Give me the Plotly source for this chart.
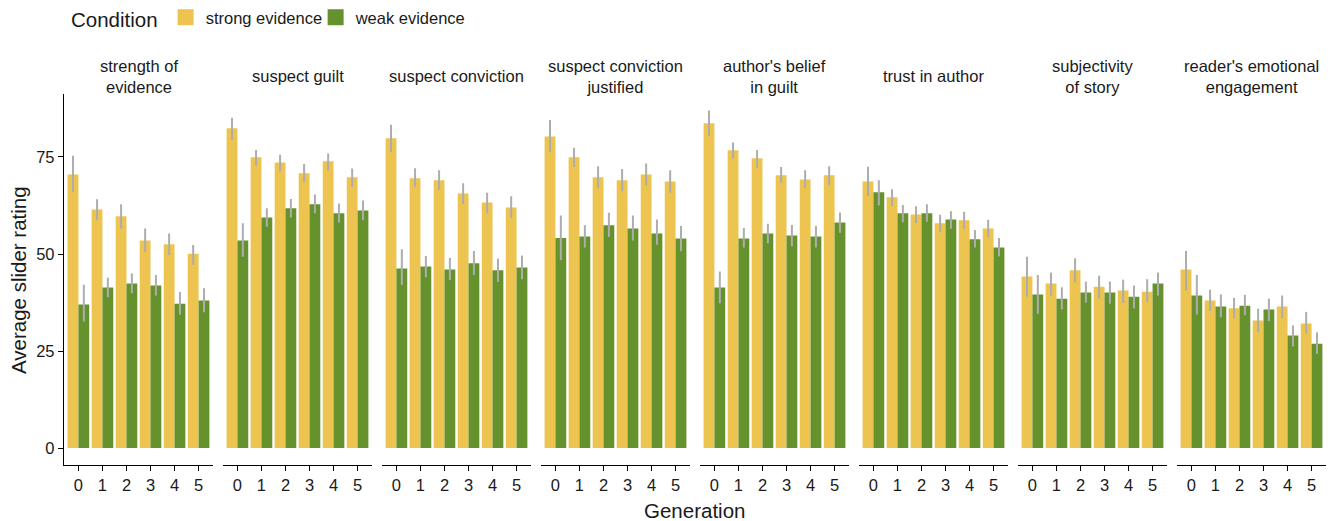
import plotly.graph_objects as go

# ---------------- data ----------------
facets = ["strength of<br>evidence", "suspect guilt", "suspect conviction",
          "suspect conviction<br>justified", "author's belief<br>in guilt",
          "trust in author", "subjectivity<br>of story",
          "reader's emotional<br>engagement"]
generations = [0, 1, 2, 3, 4, 5]
conditions = ["strong evidence", "weak evidence"]

strong_mean = [
    [70.5, 61.5, 59.7, 53.5, 52.5, 50.1],
    [82.4, 74.9, 73.6, 70.8, 73.9, 69.8],
    [79.8, 69.5, 69.0, 65.6, 63.3, 62.0],
    [80.3, 74.9, 69.8, 69.0, 70.5, 68.7],
    [83.7, 76.7, 74.7, 70.3, 69.2, 70.3],
    [68.7, 64.6, 60.2, 57.9, 58.7, 56.6],
    [44.2, 42.4, 45.8, 41.6, 40.6, 40.3],
    [46.0, 38.0, 36.0, 32.9, 36.5, 32.1],
]
strong_hi = [
    [75.3, 64.1, 62.8, 56.6, 55.3, 52.3],
    [85.1, 76.8, 75.6, 73.2, 75.9, 72.0],
    [83.3, 72.1, 71.6, 68.2, 65.8, 64.9],
    [84.5, 77.4, 72.6, 71.9, 73.3, 71.6],
    [87.0, 78.7, 76.8, 72.4, 71.6, 72.6],
    [72.5, 66.7, 62.3, 60.1, 60.9, 58.8],
    [49.3, 45.2, 48.9, 44.4, 43.4, 43.5],
    [50.8, 40.8, 38.7, 35.9, 39.3, 35.1],
]
strong_lo = [
    [66.0, 58.7, 56.6, 50.5, 49.7, 47.2],
    [79.4, 72.7, 71.3, 68.5, 71.6, 67.3],
    [76.3, 67.3, 66.5, 62.9, 60.5, 59.3],
    [76.3, 72.4, 67.0, 66.2, 67.6, 65.8],
    [80.4, 74.6, 72.2, 68.3, 67.0, 67.8],
    [64.9, 62.4, 58.0, 55.6, 56.5, 54.4],
    [39.0, 39.3, 42.7, 38.6, 37.4, 37.6],
    [40.7, 35.3, 33.4, 29.8, 33.5, 29.5],
]
weak_mean = [
    [37.0, 41.4, 42.4, 41.9, 37.2, 38.0],
    [53.5, 59.4, 61.8, 62.8, 60.5, 61.2],
    [46.3, 46.8, 46.0, 47.6, 45.8, 46.5],
    [54.1, 54.5, 57.4, 56.6, 55.3, 54.0],
    [41.4, 54.0, 55.3, 54.8, 54.5, 58.1],
    [65.9, 60.5, 60.5, 58.9, 53.8, 51.7],
    [39.6, 38.5, 40.1, 40.1, 39.0, 42.4],
    [39.3, 36.5, 36.7, 35.7, 29.0, 26.9],
]
weak_hi = [
    [42.1, 43.9, 45.0, 44.6, 40.2, 41.2],
    [57.9, 61.8, 64.2, 65.3, 63.0, 63.8],
    [51.2, 49.5, 49.0, 50.8, 48.8, 49.6],
    [59.9, 57.4, 60.6, 59.9, 58.9, 57.2],
    [45.5, 56.7, 57.8, 57.5, 57.3, 60.7],
    [69.0, 62.6, 62.8, 61.0, 56.2, 54.1],
    [44.6, 41.4, 42.9, 42.9, 41.9, 45.2],
    [44.6, 39.6, 39.5, 38.5, 31.6, 29.8],
]
weak_lo = [
    [32.6, 38.9, 39.9, 39.3, 34.4, 35.0],
    [49.3, 57.0, 59.4, 60.5, 58.1, 58.7],
    [42.0, 44.0, 43.3, 44.6, 42.8, 43.5],
    [48.4, 51.7, 54.4, 53.5, 52.4, 50.7],
    [37.3, 51.7, 52.8, 52.0, 51.7, 55.5],
    [62.5, 58.2, 58.3, 56.5, 51.7, 49.4],
    [34.6, 35.7, 37.5, 37.2, 36.0, 39.3],
    [34.4, 33.7, 34.2, 32.7, 26.2, 24.3],
]
y_ticks = [0, 25, 50, 75]

# ---------------- styling ----------------
W, H = 1333, 521
FONT = "Liberation Sans, Arial, sans-serif"
C_STRONG = "#ECC44F"
C_WEAK = "#66922E"
C_ERR = "#ADADAD"
TXT = "#1a1a1a"

panel_left0 = 64.0
panel_w = 149.0
panel_gap = 10.0
y_top_px, y_bot_px = 93.5, 465.0

def fx(p):
    return p / W

def fy(p):
    return 1 - p / H

fig = go.Figure()
series = [
    (conditions[0], strong_mean, strong_lo, strong_hi, C_STRONG),
    (conditions[1], weak_mean, weak_lo, weak_hi, C_WEAK),
]
for i in range(len(facets)):
    ax = "" if i == 0 else str(i + 1)
    for name, mean, lo, hi, col in series:
        m = mean[i]
        fig.add_trace(go.Bar(
            x=generations, y=m, name=name,
            marker=dict(color=col, line=dict(width=0)),
            error_y=dict(type="data", symmetric=False,
                         array=[h - v for h, v in zip(hi[i], m)],
                         arrayminus=[v - l for l, v in zip(lo[i], m)],
                         color=C_ERR, thickness=2, width=0),
            xaxis="x" + ax, yaxis="y" + ax,
            showlegend=False, legendgroup=name,
        ))

# legend keys (no data, legend only)
for name, _, _, _, col in series:
    fig.add_trace(go.Scatter(
        x=[None], y=[None], mode="markers", name=name, legendgroup=name,
        marker=dict(symbol="square", size=23, color=col, line=dict(width=0)),
        showlegend=True, hoverinfo="skip",
    ))

layout = dict(
    width=W, height=H,
    margin=dict(l=0, r=0, t=0, b=0),
    paper_bgcolor="white", plot_bgcolor="white",
    barmode="group", bargap=0.1, bargroupgap=0.0,
    font=dict(family=FONT, size=16.5, color=TXT),
    showlegend=True,
    legend=dict(orientation="h", x=fx(69), y=1.0, xanchor="left", yanchor="top",
                title=dict(text="Condition", side="left",
                           font=dict(size=20.5, color=TXT)),
                font=dict(size=16.5, color=TXT), itemsizing="trace",
                entrywidth=105, entrywidthmode="pixels",
                bgcolor="rgba(0,0,0,0)"),
)
annotations = []
for i in range(len(facets)):
    ax = "" if i == 0 else str(i + 1)
    left = panel_left0 + i * (panel_w + panel_gap)
    right = left + panel_w
    layout["xaxis" + ax] = dict(
        domain=[fx(left), fx(right)], anchor="y" + ax,
        range=[-0.6, 5.6], tickmode="array", tickvals=generations,
        ticktext=[str(g) for g in generations],
        showline=True, linecolor="black", linewidth=1.4,
        ticks="outside", ticklen=5, tickwidth=1.2, tickcolor="black",
        showgrid=False, zeroline=False, fixedrange=True,
        tickfont=dict(size=16.5, color=TXT),
    )
    ydict = dict(
        domain=[fy(y_bot_px), fy(y_top_px)], anchor="x" + ax,
        range=[-4.35, 91.35], showgrid=False, zeroline=False, fixedrange=True,
    )
    if i == 0:
        ydict.update(showline=True, linecolor="black", linewidth=1.4,
                     ticks="outside", ticklen=5, tickwidth=1.2, tickcolor="black",
                     tickmode="array", tickvals=y_ticks,
                     ticktext=[str(t) for t in y_ticks],
                     tickfont=dict(size=16.5, color=TXT))
    else:
        ydict.update(showline=False, showticklabels=False, ticks="", matches="y")
    layout["yaxis" + ax] = ydict
    annotations.append(dict(
        text=facets[i], x=fx((left + right) / 2), y=fy(76.5), xref="paper", yref="paper",
        xanchor="center", yanchor="middle", showarrow=False,
        font=dict(size=16.5, color=TXT),
    ))

annotations.append(dict(text="Generation", x=fx(695), y=fy(510), xref="paper", yref="paper",
                        xanchor="center", yanchor="middle", showarrow=False,
                        font=dict(size=20.5, color=TXT)))
annotations.append(dict(text="Average slider rating", x=fx(18), y=fy(280), xref="paper",
                        yref="paper", xanchor="center", yanchor="middle", showarrow=False,
                        textangle=-90, font=dict(size=20.5, color=TXT)))
layout["annotations"] = annotations
fig.update_layout(**layout)
fig.write_html(
    "out.html",
    config={"displayModeBar": False},
    post_script="document.body.style.margin='0';document.body.style.overflow='hidden';",
)
